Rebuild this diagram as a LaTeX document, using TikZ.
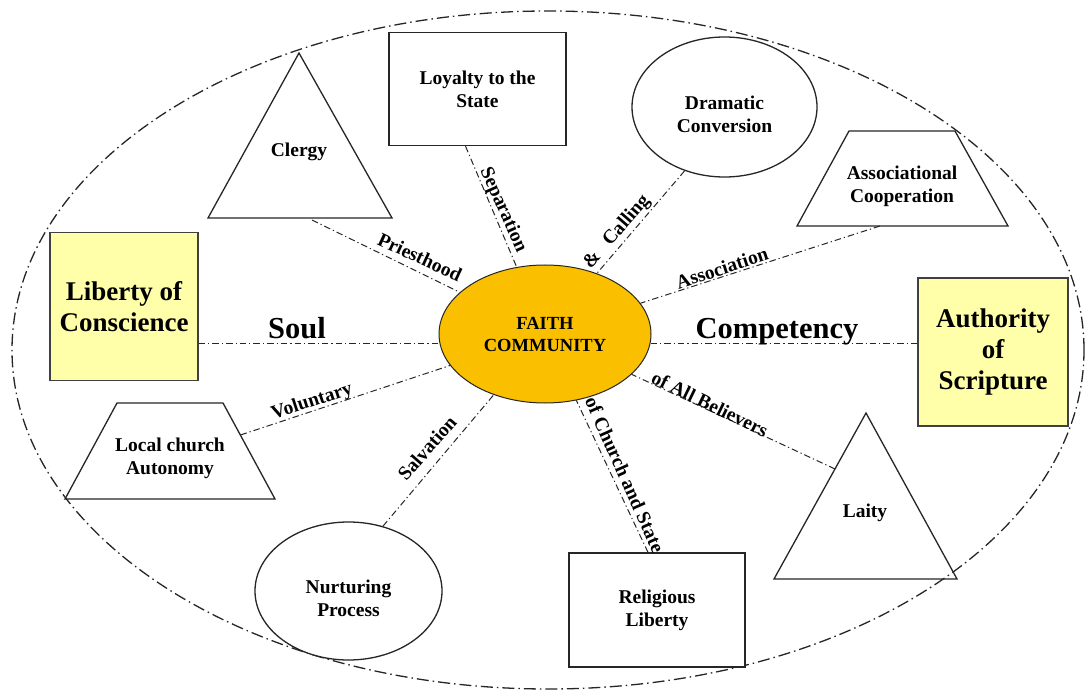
\documentclass[tikz,border=0pt]{standalone}
\usepackage{fontspec}
\setmainfont{Liberation Serif}
\usetikzlibrary{shapes.geometric,calc}
\definecolor{boxyellow}{RGB}{255,255,170}
\definecolor{faithgold}{RGB}{250,192,0}
\tikzset{
  shapeline/.style={draw=black!85, line width=1.3pt},
  shapebox/.style={shapeline, fill=white, inner sep=0pt, align=center, font=\fontsize{19.5}{23}\selectfont\bfseries},
  boxtext/.style={inner sep=0pt, align=center, font=\fontsize{19.5}{23}\selectfont\bfseries},
  yellowbox/.style={draw=black!75, line width=1.3pt, fill=boxyellow, minimum width=148pt, minimum height=148pt, inner sep=0pt, align=center, font=\fontsize{27}{31}\selectfont\bfseries},
  conn/.style={draw=black!85, line width=1pt, dash pattern=on 6.5pt off 3pt on 1.2pt off 3pt},
  lbl/.style={inner sep=0pt, font=\fontsize{19.5}{23}\selectfont\bfseries},
  biglbl/.style={inner sep=0pt, anchor=base, font=\fontsize{30.5}{34}\selectfont\bfseries},
  outerline/.style={draw=black!85, line width=1.3pt, dash pattern=on 12pt off 4pt on 1.5pt off 4pt}
}
\begin{document}
\begin{tikzpicture}[x=1pt,y=1pt]
\useasboundingbox (0,0) rectangle (1092,-692);
\fill[white] (0,0) rectangle (1092,-692);

% outer dash-dot ellipse
\draw[outerline] (548,-350) ellipse [x radius=536, y radius=339];

% central node
\node[ellipse, draw=black!85, line width=1pt, fill=faithgold, minimum width=212pt, minimum height=138pt, inner sep=0pt, align=center, font=\fontsize{18.5}{22}\selectfont\bfseries] (fc) at (545,-334) {FAITH\\COMMUNITY};

% yellow boxes
\node[yellowbox] (lib) at (124,-306.5) {Liberty of\\Conscience};
\node[yellowbox, minimum width=150pt] (auth) at (993,-352) {Authority\\of\\Scripture};

% rectangles
\node[shapebox, rectangle, minimum width=177pt, minimum height=113pt] (loyal) at (477.5,-89) {Loyalty to the\\State};
\node[shapebox, rectangle, minimum width=176pt, minimum height=114pt] (relig) at (657,-610) {Religious\\Liberty};

% ellipses
\node[shapeline, fill=white, ellipse, inner sep=0pt, minimum width=185pt, minimum height=140pt] (dram) at (724.5,-107) {};
\node[boxtext] (dramt) at (724.5,-114) {Dramatic\\Conversion};
\node[shapeline, fill=white, ellipse, inner sep=0pt, minimum width=187pt, minimum height=138pt] (nurt) at (348.5,-591) {};
\node[boxtext] (nurtt) at (348.5,-598) {Nurturing\\Process};

% triangles
\draw[shapeline] (299,-53) -- (208,-218) -- (392,-218) -- cycle;
\node[boxtext] (clergy) at (299,-152) {Clergy};
\draw[shapeline] (866,-413) -- (774,-579) -- (957,-579) -- cycle;
\node[boxtext] (laity) at (865,-513) {Laity};

% trapezoids
\draw[shapeline] (849,-131) -- (955,-131) -- (1008,-226) -- (797,-226) -- cycle;
\node[boxtext] (assoc) at (902,-186.5) {Associational\\Cooperation};
\draw[shapeline] (117,-403) -- (223,-403) -- (275,-499) -- (65,-499) -- cycle;
\node[boxtext] (local) at (170,-458.5) {Local church\\Autonomy};

% connection points on the shapes
\coordinate (clergyc) at (312,-220);
\coordinate (loyalc) at ($(loyal.south)+(-12,0)$);
\coordinate (dramc) at (dram.238);
\coordinate (assocc) at (880,-226);
\coordinate (localc) at (240.5,-435);
\coordinate (nurtc) at (nurt.62);
\coordinate (religc) at ($(relig.north)+(-9,0)$);
\coordinate (laityc) at (835,-469);

% connectors
\draw[conn] (lib.east |- 0,-344) -- ($(fc.west)+(1,-10)$);
\draw[conn] ($(fc.east)+(-1,-10)$) -- (auth.west |- 0,-344);
\draw[conn] (clergyc) -- (fc);
\draw[conn] (loyalc) -- (fc);
\draw[conn] (dramc) -- (fc);
\draw[conn] (assocc) -- (fc);
\draw[conn] (localc) -- (fc);
\draw[conn] (nurtc) -- (fc);
\draw[conn] (religc) -- (fc);
\draw[conn] (laityc) -- (fc);

% labels
\node[biglbl] (soul) at (297,-339) {Soul};
\node[biglbl] (comp) at (777,-339) {Competency};
\node[lbl, rotate=-25] (lpriest) at (420,-257) {Priesthood};
\node[lbl, rotate=-66] (lsep) at (503,-210) {Separation};
\node[lbl, rotate=49] (lcall) at (617,-232) {\&\hspace{0.45em} Calling};
\node[lbl, rotate=18] (lassoc) at (722,-268) {Association};
\node[lbl, rotate=18] (lvol) at (312,-402) {Voluntary};
\node[lbl, rotate=49] (lsalv) at (427,-448) {Salvation};
\node[lbl, rotate=-66] (lchurch) at (625,-475) {of Church and State};
\node[lbl, rotate=-26] (lall) at (710,-404) {of All Believers};
\end{tikzpicture}
\end{document}
